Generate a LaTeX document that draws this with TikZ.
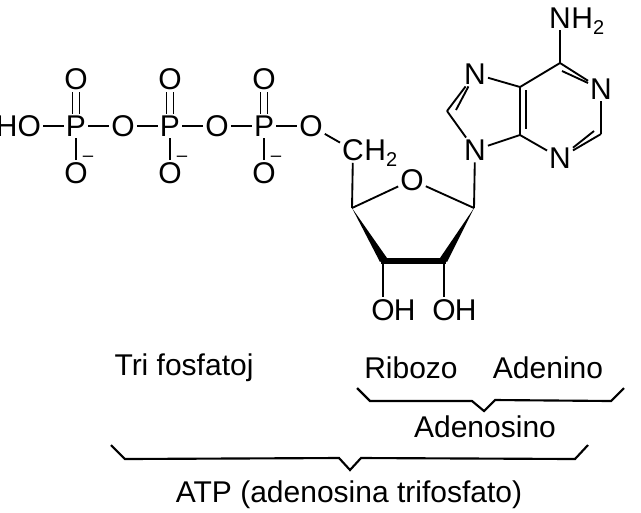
\documentclass[tikz,border=0pt]{standalone}
\usepackage{fontspec}
\setmainfont{Liberation Sans}
\newcommand{\subtwo}{\raisebox{-4.5pt}{\fontsize{15pt}{15pt}\selectfont 2}}
\begin{document}
\begin{tikzpicture}[x=0.75pt, y=-0.75pt, atom/.style={ inner sep=1.4pt,
    font=\fontsize{22.5pt}{22.5pt}\selectfont }, tail/.style={ inner sep=0pt,
    anchor=base west, font=\fontsize{22.5pt}{22.5pt}\selectfont },
    charge/.style={ inner sep=0pt, font=\fontsize{14pt}{14pt}\selectfont },
    caption/.style={ inner sep=0pt, anchor=base,
    font=\fontsize{22.5pt}{22.5pt}\selectfont }, bond/.style={ line width=1.4pt },
    bracket/.style={ line width=1.6pt, line join=miter } ]
  \useasboundingbox (0,0) rectangle (641,512);
  % phosphate chain
  \node[atom,anchor=east] (ho) at (43,126) {HO};
  \foreach \x/\y/\n/\t in {76/126/p1/P,123/126/o1/O,170/126/p2/P,217/126/o2/O,
    264/126/p3/P,311/126/o3/O,76/79/t1/O,170/79/t2/O,264/79/t3/O,
    76/173/b1/O,170/173/b2/O,264/173/b3/O}
  \node[atom] (\n) at (\x,\y) {\t};
  \foreach \x/\n in {88/m1,182/m2,276/m3}
  \node[charge] (\n) at (\x,159) {--};
  % sugar ring
  \foreach \x/\y/\n/\t in {353/150/cm/C,412/180/or/O,383/310/oa/O,444/310/ob/O,
    475/150/n9/N,475/74/n7/N,601/89/n1/N,560/158/n3/N,560/18/na/N}
  \node[atom] (\n) at (\x,\y) {\t};
  \node[tail,xshift=-1.4pt] (hm) at (cm.base east) {H\subtwo};
  \node[tail,xshift=-1.4pt] (hn) at (na.base east) {H\subtwo};
  \node[tail,xshift=-2.4pt] (ha) at (oa.base east) {H};
  \node[tail,xshift=-2.4pt] (hb) at (ob.base east) {H};
  \foreach \x/\y/\n in {352/208/c4,474/208/c1,383/261/c3,444/261/c2,
    447/111/c8,520/135/c54,520/87/c55,560/63/c6,601/134/c22}
  \coordinate (\n) at (\x,\y);
  % single bonds
  \foreach \a/\b in {ho/p1,p1/o1,o1/p2,p2/o2,o2/p3,p3/o3,p1/b1,p2/b2,p3/b3,
    o3/cm,cm/c4,c4/or,or/c1,c3/oa,c2/ob,c1/n9,n9/c8,c8/n7,n7/c55,n9/c54,
    c54/c55,c55/c6,c6/na,c6/n1,n1/c22,c22/n3,n3/c54}
  \draw[bond] (\a) -- (\b);
  % double bonds
  \foreach \a/\b in {p1/t1,p2/t2,p3/t3} {
    \draw[bond] ([xshift=-2.6pt]\a.north) -- ([xshift=-2.6pt]\b.south);
    \draw[bond] ([xshift=2.6pt]\a.north) -- ([xshift=2.6pt]\b.south);
  }
  \draw[bond] ([shift={(6,3)}]c55) -- ([shift={(6,-6)}]c54);
  \draw[bond] ([shift={(2,8)}]c6) -- ([shift={(-16,-3)}]n1);
  \draw[bond] ([shift={(-7,-3)}]c22) -- ([shift={(9,-14)}]n3);
  \draw[bond] ([shift={(9,-1)}]c8) -- ([shift={(-6,21)}]n7);
  % wedges
  \fill (c4) -- ([shift={(-3,1)}]c3) -- ([shift={(4,-3)}]c3) -- cycle;
  \fill (c1) -- ([shift={(3,1)}]c2) -- ([shift={(-4,-3)}]c2) -- cycle;
  \draw[line width=4.5pt] ([xshift=-1.5pt]c3) -- ([xshift=1.5pt]c2);
  % labels
  \node[caption] (tri) at (184,375) {Tri fosfatoj};
  \node[caption] (rib) at (411,378) {Ribozo};
  \node[caption] (ade) at (548,378) {Adenino};
  \node[caption] (ads) at (485,437) {Adenosino};
  \node[caption] (atp) at (349,502) {ATP (adenosina trifosfato)};
  \draw[bracket] (357,388) -- (370,401) -- (472,401) -- (484,411) -- (495,400)
    -- (611,401) -- (624,388);
  \draw[bracket] (111,445) -- (125,459) -- (339,458) -- (350,470) -- (361,458)
    -- (575,459) -- (588,445);
\end{tikzpicture}
\end{document}
